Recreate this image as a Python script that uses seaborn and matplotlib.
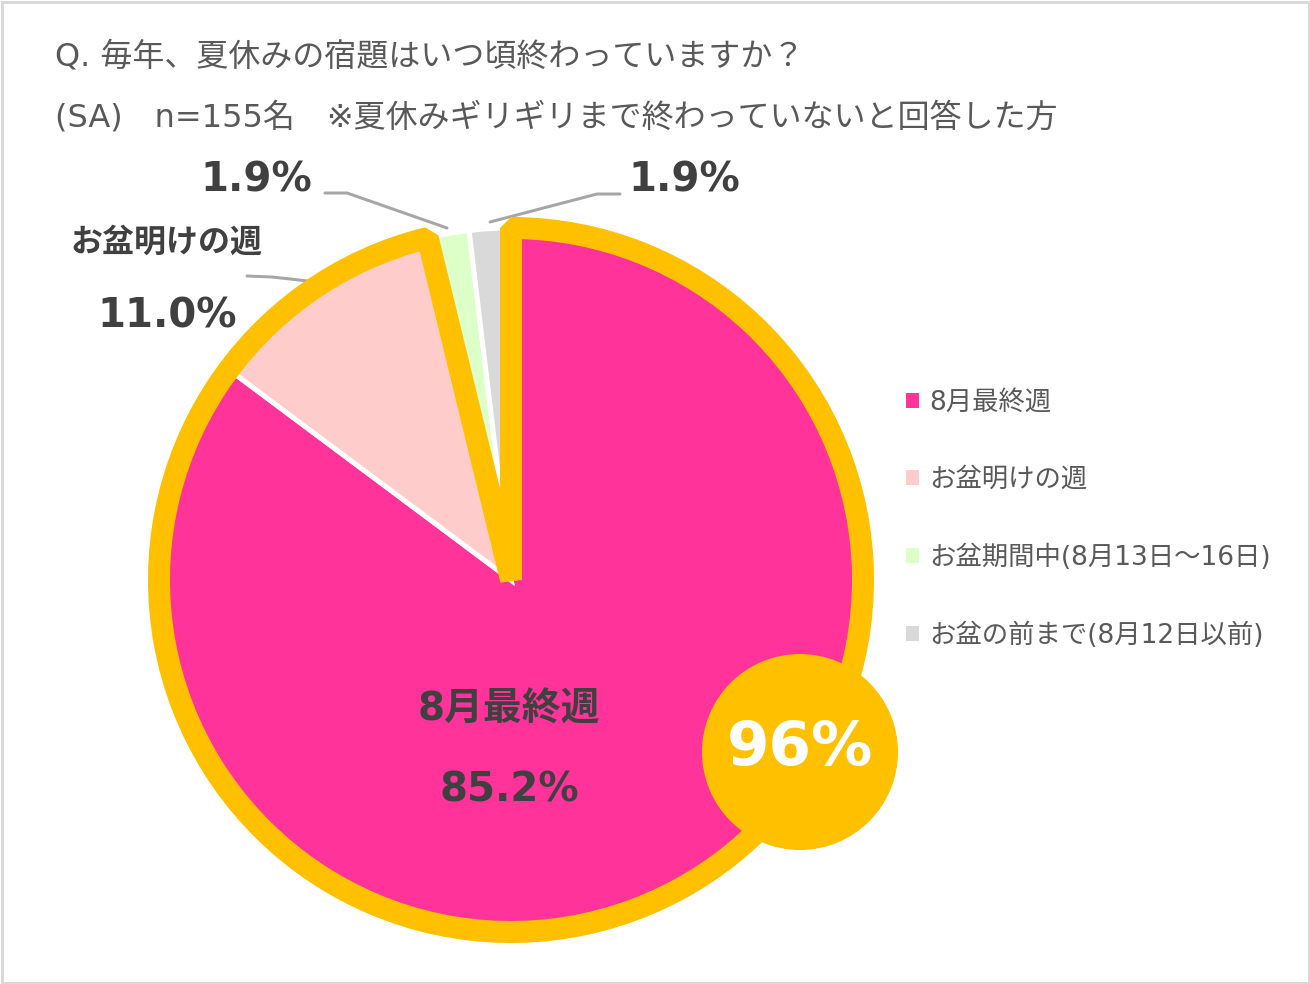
import matplotlib
matplotlib.use("Agg")
import matplotlib.pyplot as plt
from matplotlib.patches import Wedge, Circle, Rectangle, Patch
import seaborn as sns

# data
categories = ["8月最終週", "お盆明けの週", "お盆期間中(8月13日～16日)", "お盆の前まで(8月12日以前)"]
shares = [85.2, 11.0, 1.9, 1.9]
colors = ["#FF3399", "#FFCCCC", "#DDFFC8", "#D9D9D9"]
pct_labels = ["85.2%", "11.0%", "1.9%", "1.9%"]
group_total = "96%"
title_q = "Q. 毎年、夏休みの宿題はいつ頃終わっていますか？"
title_sub = "(SA)\u3000n=155名\u3000※夏休みギリギリまで終わっていないと回答した方"

sns.set_theme(style="white")
# latin in DejaVu (close to the Verdana look), kana/kanji fall back to Noto CJK
plt.rcParams['font.family'] = ['DejaVu Sans', 'Noto Sans CJK JP']

W, H = 1310, 984
fig = plt.figure(figsize=(W / 100, H / 100), dpi=100)
ax = fig.add_axes([0, 0, 1, 1])

def Y(y):  # image row -> data y
    return H - y

cx, cy, r = 511, Y(580), 352
orange = "#FFC000"
dark = "#404040"
grey_txt = "#595959"
px = 72 / 100  # one pixel in points

ax.pie(shares, colors=colors, startangle=90, counterclock=False,
       center=(cx, cy), radius=r,
       wedgeprops=dict(edgecolor="white", linewidth=5 * px))

# orange outline around the top two answers
span = 360 * (shares[0] + shares[1]) / 100
ax.add_patch(Wedge((cx, cy), r, 90 - span, 90, fill=False,
                   edgecolor=orange, linewidth=22 * px, joinstyle="bevel", zorder=5))

# badge
ax.add_patch(Circle((800, Y(752)), 98, facecolor=orange, edgecolor="none", zorder=6))
ax.text(800, Y(748), group_total, color="white", fontsize=44, fontweight="bold",
        ha="center", va="center", zorder=7)

# data labels
ax.text(509, Y(710), categories[0], color=dark, fontsize=28, fontweight="bold",
        ha="center", va="center")
ax.text(509, Y(791), pct_labels[0], color=dark, fontsize=29, fontweight="bold",
        ha="center", va="center")
ax.text(166, Y(243), categories[1], color=dark, fontsize=23, fontweight="bold",
        ha="center", va="center")
ax.text(167, Y(316), pct_labels[1], color=dark, fontsize=29, fontweight="bold",
        ha="center", va="center")
ax.text(256, Y(180), pct_labels[2], color=dark, fontsize=29, fontweight="bold",
        ha="center", va="center")
ax.text(684, Y(180), pct_labels[3], color=dark, fontsize=29, fontweight="bold",
        ha="center", va="center")

# leader lines
lc = "#A6A6A6"
ax.plot([247, 272, 308], [Y(276), Y(277), Y(281)], color=lc, lw=3 * px)
ax.plot([325, 347, 447], [Y(193), Y(193), Y(228)], color=lc, lw=3 * px)
ax.plot([490, 597, 620], [Y(222), Y(194), Y(194)], color=lc, lw=3 * px)

# titles
ax.text(55, Y(57), title_q, color=grey_txt, fontsize=23, ha="left", va="center")
ax.text(55, Y(118), title_sub, color=grey_txt, fontsize=23, ha="left", va="center")

# legend
handles = [Patch(facecolor=c, edgecolor="none") for c in colors]
leg = ax.legend(handles, categories, loc="center left",
                bbox_to_anchor=(882 / W, 1 - 519 / H), frameon=False,
                fontsize=19, labelcolor=grey_txt, handlelength=0.5,
                handleheight=0.5, handletextpad=0.4, labelspacing=1.95)

ax.set_xlim(0, W)
ax.set_ylim(0, H)
ax.set_aspect("equal")
ax.axis("off")

fig.patches.append(Rectangle((1.5 / W, 1.5 / H), 1 - 3 / W, 1 - 3 / H,
                             transform=fig.transFigure, fill=False,
                             edgecolor="#D9D9D9", linewidth=3 * px))

fig.savefig("out.png", dpi=100)
